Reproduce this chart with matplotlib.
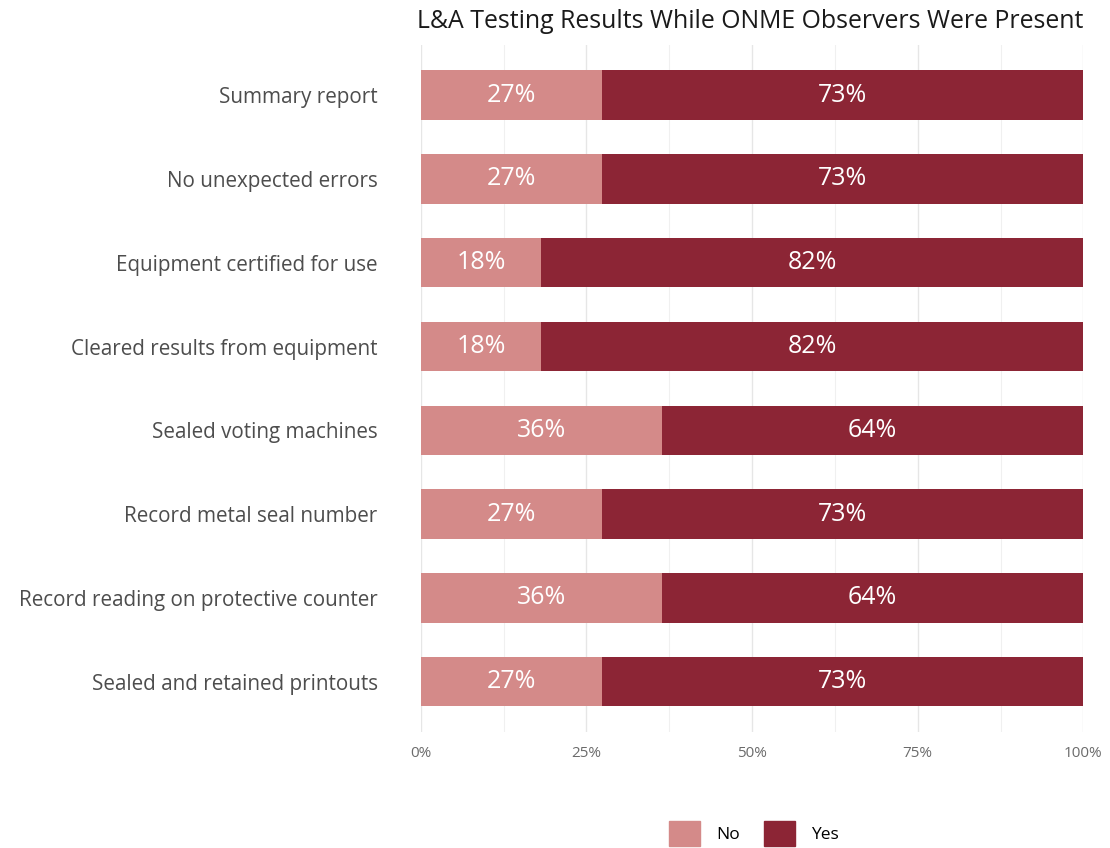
import matplotlib.pyplot as plt
from matplotlib.ticker import FixedLocator
from matplotlib.patches import Patch

plt.rcParams['font.family'] = ['Open Sans', 'DejaVu Sans']

# items, top to bottom
items = [
    "Summary report",
    "No unexpected errors",
    "Equipment certified for use",
    "Cleared results from equipment",
    "Sealed voting machines",
    "Record metal seal number",
    "Record reading on protective counter",
    "Sealed and retained printouts",
]
no_pct = [27.3, 27.3, 18.2, 18.2, 36.4, 27.3, 36.4, 27.3]
yes_pct = [72.7, 72.7, 81.8, 81.8, 63.6, 72.7, 63.6, 72.7]
x_ticks = [0, 25, 50, 75, 100]
x_labels = ["0%", "25%", "50%", "75%", "100%"]

col_no = "#D48A89"
col_yes = "#8C2535"

fig = plt.figure(figsize=(11.1, 8.48), dpi=100)
ax = fig.add_axes([0.379, 0.137, 0.597, 0.81])

y = list(range(len(items)))
ax.barh(y, no_pct, height=0.59, color=col_no, zorder=2)
ax.barh(y, yes_pct, left=no_pct, height=0.59, color=col_yes, zorder=2)

for i in y:
    ax.text(no_pct[i] / 2, i, f"{no_pct[i]:.0f}%", ha="center", va="center",
            color="white", fontsize=18, zorder=3)
    ax.text(no_pct[i] + yes_pct[i] / 2, i, f"{yes_pct[i]:.0f}%", ha="center",
            va="center", color="white", fontsize=18, zorder=3)

ax.set_ylim(len(items) - 0.4, -0.6)
ax.set_xlim(0, 100)
ax.set_yticks(y)
ax.set_yticklabels(items, fontsize=14.9, color="#4d4d4d")
ax.set_xticks(x_ticks)
ax.set_xticklabels(x_labels, fontsize=11, color="#6b6b6b")
ax.xaxis.set_minor_locator(FixedLocator([12.5, 37.5, 62.5, 87.5]))
ax.tick_params(length=0, which="both")
ax.tick_params(axis="y", pad=31)
ax.tick_params(axis="x", pad=10)
ax.grid(axis="x", which="major", color="#e6e6e6", linewidth=1.0, zorder=0)
ax.grid(axis="x", which="minor", color="#f0f0f0", linewidth=0.8, zorder=0)
for s in ax.spines.values():
    s.set_visible(False)

ax.set_title("L&A Testing Results While ONME Observers Were Present",
             fontsize=17.9, color="#1a1a1a", loc="right", pad=12)

handles = [Patch(color=col_no, label="No"), Patch(color=col_yes, label="Yes")]
fig.legend(handles=handles, loc="lower center", bbox_to_anchor=(0.679, -0.016),
           ncol=2, frameon=False, fontsize=12.5, handlelength=1.8,
           handleheight=1.8, handletextpad=0.9, columnspacing=1.4)

fig.savefig("out.png", dpi=100)
